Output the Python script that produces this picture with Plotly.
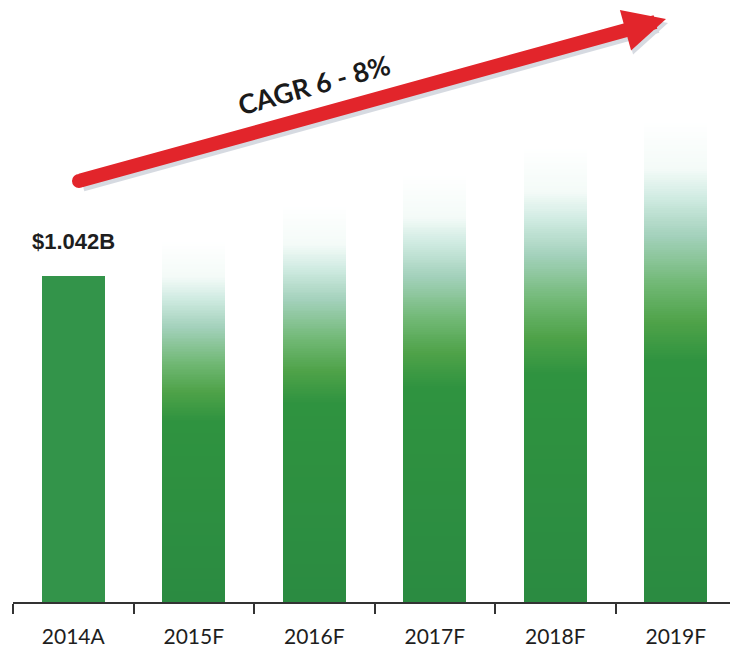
import plotly.graph_objects as go

# ---- data ----
categories = ["2014A", "2015F", "2016F", "2017F", "2018F", "2019F"]
values = [1.042, 1.155, 1.269, 1.368, 1.456, 1.538]   # $B
actual_label = "$1.042B"
cagr_text = "CAGR 6 - 8%"

# ---- styling ----
solid_green = "#33944a"
grad_stops = [
    (0.00, (43, 139, 65)),
    (0.50, (47, 147, 64)),
    (0.58, (78, 162, 72)),
    (0.66, (112, 184, 116)),
    (0.76, (163, 209, 187)),
    (0.84, (208, 235, 226)),
    (0.90, (244, 251, 248)),
    (1.00, (255, 255, 255)),
]


def grad(f):
    for (f0, c0), (f1, c1) in zip(grad_stops[:-1], grad_stops[1:]):
        if f <= f1:
            t = (f - f0) / (f1 - f0) if f1 > f0 else 0
            return "rgb(%d,%d,%d)" % tuple(round(a + (b - a) * t) for a, b in zip(c0, c1))
    return "rgb(255,255,255)"


fig = go.Figure()

# actual bar (solid)
fig.add_trace(go.Bar(x=categories[:1], y=values[:1], width=0.52,
                     marker=dict(color=solid_green, line=dict(width=0)),
                     hoverinfo="skip", showlegend=False))

# forecast bars with vertical gradient: overlapping bars from tallest (top color) down
N = 220
fc_cats = categories[1:]
fc_vals = values[1:]
for k in range(N - 1, -1, -1):
    frac = (k + 1) / N
    fig.add_trace(go.Bar(x=fc_cats, y=[v * frac for v in fc_vals], width=0.52,
                         marker=dict(color=grad((k + 0.5) / N), line=dict(width=0)),
                         hoverinfo="skip", showlegend=False))

# value label for the actual bar
fig.add_annotation(x=categories[0], y=values[0], text="<b>%s</b>" % actual_label,
                   showarrow=False, xanchor="center", yanchor="middle", yshift=34,
                   font=dict(family="Liberation Sans, Arial, sans-serif", size=22, color="#1e1e1e"))

# arrow shadow
fig.add_annotation(x=0.9107, y=0.9684, xref="paper", yref="paper", text="",
                   showarrow=True, ax=-587, ay=162, arrowhead=2, arrowsize=0.6,
                   arrowwidth=14, arrowcolor="rgba(110,125,150,0.28)", standoff=0,
                   xshift=2, yshift=-4)
# arrow
fig.add_annotation(x=0.9107, y=0.9684, xref="paper", yref="paper", text="",
                   showarrow=True, ax=-587, ay=162, arrowhead=2, arrowsize=0.6,
                   arrowwidth=14, arrowcolor="#e2252b", standoff=0)
# rounded tail
fig.add_shape(type="circle", xref="paper", yref="paper", xsizemode="pixel", ysizemode="pixel",
              xanchor=0.09205, yanchor=0.6993, x0=-7, x1=7, y0=-7, y1=7,
              fillcolor="#e2252b", line=dict(width=0), layer="above")

# CAGR text
fig.add_annotation(x=0.4198, y=0.859, xref="paper", yref="paper", text="<b>%s</b>" % cagr_text,
                   showarrow=False, textangle=-15.5, xanchor="center", yanchor="middle",
                   font=dict(family="Lato, Open Sans, sans-serif", size=27, color="#1a1a1a"))

fig.update_layout(
    width=730, height=649,
    margin=dict(l=13, r=0, t=0, b=47),
    paper_bgcolor="white", plot_bgcolor="white",
    barmode="overlay", bargap=0,
    showlegend=False,
    xaxis=dict(type="category", range=[-0.5, 5.45], showline=True, linecolor="#333333",
               linewidth=1.5, ticks="outside", tickson="boundaries", ticklen=10,
               tickcolor="#333333", tickwidth=1.5, showgrid=False, zeroline=False,
               ticklabelstandoff=15,
               tickfont=dict(family="Lato, Liberation Sans, sans-serif", size=21, color="#1e1e1e")),
    yaxis=dict(visible=False, range=[0, 1.924], showgrid=False, zeroline=False),
)

fig.write_html("out.html")
